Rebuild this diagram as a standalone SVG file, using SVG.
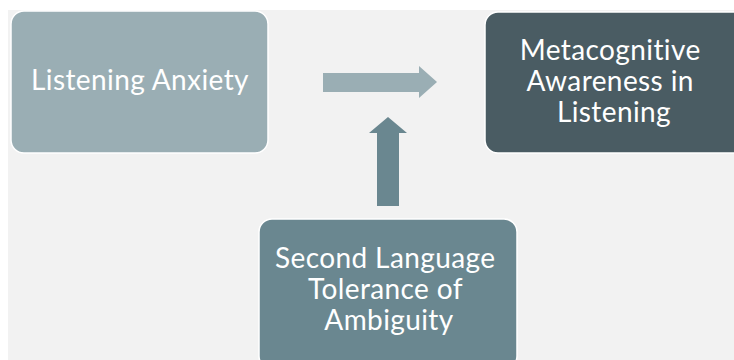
<svg xmlns="http://www.w3.org/2000/svg" width="734" height="360" viewBox="0 0 734 360">
  <style>
    .node { stroke: #ffffff; stroke-width: 1.5; }
    .lbl { font-family: Lato, "Liberation Sans", sans-serif; font-size: 28px; letter-spacing: 0.4px; fill: #ffffff; text-anchor: middle; font-variant-ligatures: none; }
  </style>
  <rect x="0" y="0" width="734" height="360" fill="#ffffff"/>
  <rect x="8" y="10" width="726" height="350" fill="#f2f2f2"/>

  <g id="connectors">
    <!-- horizontal arrow -->
    <polygon points="323,73 419,73 419,66 437,82 419,98 419,92 323,92" fill="#9aaeb4"/>
    <!-- vertical arrow -->
    <polygon points="377,206 377,133 369,133 388,117 407,133 399,133 399,206" fill="#6a8790"/>
  </g>

  <g id="listening-anxiety">
    <rect class="node" x="11" y="11" width="257" height="142" rx="13" fill="#9aaeb4"/>
    <text class="lbl" x="140" y="90">Listening Anxiety</text>
  </g>

  <g id="metacognitive-awareness">
    <rect class="node" x="485" y="12" width="262" height="141" rx="13" fill="#4a5c63"/>
    <text class="lbl">
      <tspan x="614" y="60">Metacognitive</tspan>
      <tspan x="614" y="91">Awareness in</tspan>
      <tspan x="614" y="122">Listening</tspan>
    </text>
  </g>

  <g id="tolerance-of-ambiguity">
    <rect class="node" x="259" y="219" width="258" height="150" rx="13" fill="#6a8790"/>
    <text class="lbl">
      <tspan x="389" y="268">Second Language</tspan>
      <tspan x="389" y="299">Tolerance of</tspan>
      <tspan x="389" y="330">Ambiguity</tspan>
    </text>
  </g>
</svg>
